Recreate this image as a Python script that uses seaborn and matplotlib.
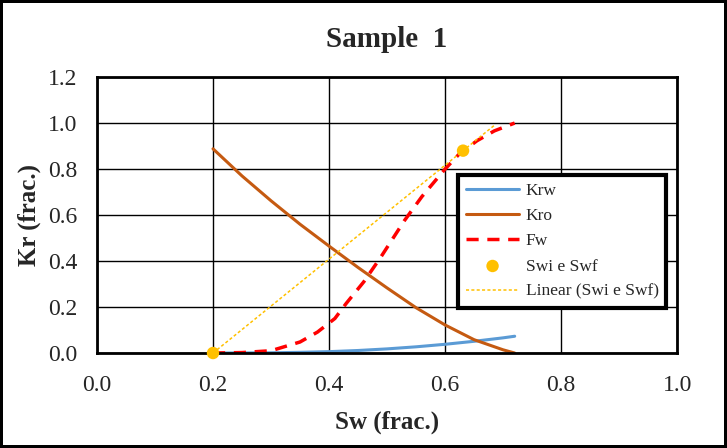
import numpy as np
import pandas as pd
import matplotlib.pyplot as plt
import seaborn as sns

# saturation grid for the relative permeability curves
sw = [0.20, 0.25, 0.30, 0.35, 0.40, 0.45, 0.50, 0.55, 0.60, 0.65, 0.70, 0.72]
krw = [0.0, 0.0003, 0.001, 0.003, 0.006, 0.011, 0.018, 0.027, 0.038, 0.051, 0.066, 0.073]
kro = [0.888, 0.77, 0.662, 0.56, 0.465, 0.372, 0.283, 0.197, 0.122, 0.058, 0.014, 0.0]

# fractional flow curve
sw_fw = [0.20, 0.25, 0.30, 0.35, 0.38, 0.41, 0.43, 0.46, 0.49, 0.53, 0.56, 0.60, 0.625, 0.655, 0.685, 0.72]
fw = [0.0, 0.002, 0.010, 0.048, 0.091, 0.15, 0.217, 0.31, 0.42, 0.576, 0.68, 0.80, 0.867, 0.923, 0.966, 1.0]

# Swi and Swf points
sw_pts = [0.20, 0.631]
fw_pts = [0.0, 0.88]
trend_end = 0.685

sns.set_style("white")
plt.rcParams['font.family'] = ['Liberation Serif', 'DejaVu Serif']

fig = plt.figure(figsize=(7.27, 4.48), dpi=100)
ax = fig.add_axes([0.1334, 0.212, 0.798, 0.616])

sns.lineplot(x=sw, y=krw, ax=ax, color='#5B9BD5', lw=2.2, label='Krw')
sns.lineplot(x=sw, y=kro, ax=ax, color='#C55A11', lw=2.2, label='Kro')
sns.lineplot(x=sw_fw, y=fw, ax=ax, color='#FF0000', lw=2.5, label='Fw',
             linestyle=(0, (3.5, 2.5)))
sns.scatterplot(x=sw_pts, y=fw_pts, ax=ax, color='#FFC000', s=80,
                edgecolor='none', label='Swi e Swf', zorder=5, clip_on=False)

# linear trendline through the two points
coef = np.polyfit(sw_pts, fw_pts, 1)
xt = np.array([sw_pts[0], trend_end])
ax.plot(xt, np.polyval(coef, xt), color='#FFC000', lw=1.1,
        linestyle=(0, (2, 1.5)), label='Linear (Swi e Swf)')

ax.set_xlim(0, 1.0)
ax.set_ylim(0, 1.2)
ax.set_xticks(np.arange(0, 1.01, 0.2))
ax.set_yticks(np.arange(0, 1.21, 0.2))
ax.set_xticklabels([f"{v:.1f}" for v in np.arange(0, 1.01, 0.2)])
ax.set_yticklabels([f"{v:.1f}" for v in np.arange(0, 1.21, 0.2)])
ax.tick_params(axis='both', length=0, labelsize=17)
ax.tick_params(axis='x', pad=16)
ax.tick_params(axis='y', pad=14)
ax.grid(True, color='black', lw=1)
ax.set_axisbelow(True)
for s in ax.spines.values():
    s.set_color('black')
    s.set_linewidth(2)

ax.set_xlabel('Sw (frac.)', fontsize=18, fontweight='bold', labelpad=10)
ax.set_ylabel('Kr (frac.)', fontsize=18, fontweight='bold', labelpad=5)
ax.set_title('Sample  1', fontsize=21, fontweight='bold', pad=22)

leg = ax.legend(loc='upper left', bbox_to_anchor=(0.622, 0.645), borderaxespad=0,
                fontsize=12.5, fancybox=False, framealpha=1, edgecolor='black',
                handlelength=3.1, handletextpad=0.35, labelspacing=0.52,
                borderpad=0.45)
leg.get_frame().set_linewidth(3)

fig.patch.set_edgecolor('black')
fig.patch.set_linewidth(3)

plt.savefig('out.png', dpi=100, edgecolor=fig.get_edgecolor())
